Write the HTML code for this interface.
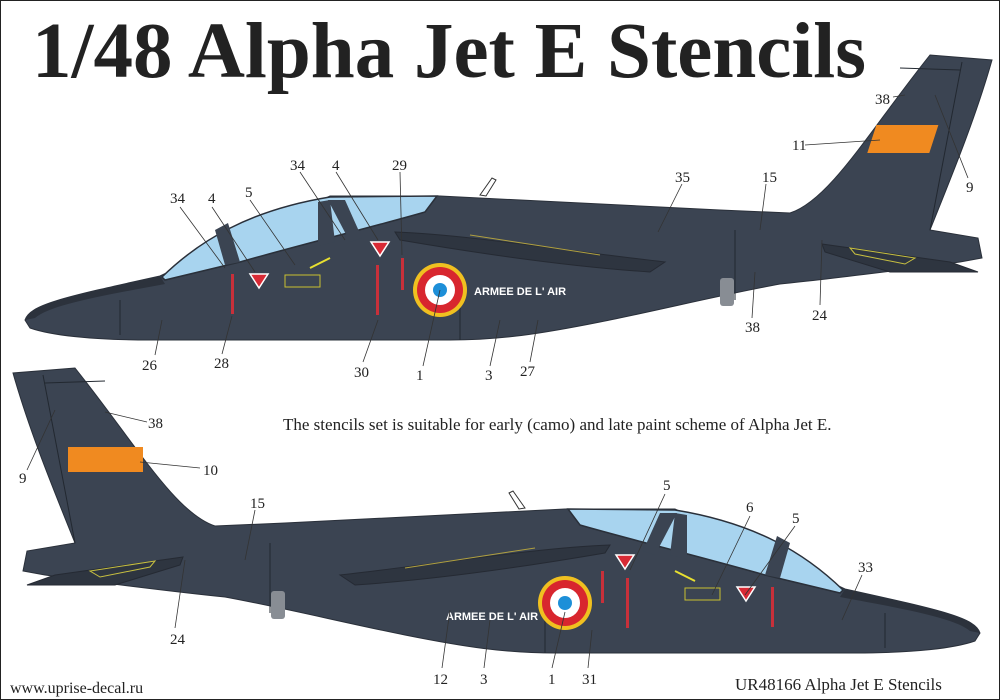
<!DOCTYPE html>
<html><head><meta charset="utf-8"><style>
html,body{margin:0;padding:0;background:#fff}
svg{display:block}
text{font-family:"Liberation Serif",serif;fill:#222}
</style></head><body>
<svg width="1000" height="700" viewBox="0 0 1000 700">
<rect x="0.5" y="0.5" width="999" height="699" fill="#fff" stroke="#222" stroke-width="1"/>
<defs>
<g id="jet">
 <path d="M25,320 C30,305 60,298 160,276 L330,196 L440,196 C520,200 620,205 720,210 L790,213 C830,200 870,130 930,55 L992,60 C975,120 950,180 930,230 L978,238 L982,258 L960,262 L900,270 C860,275 820,280 780,284 C720,295 660,310 600,322 C540,334 500,340 450,340 L150,340 C90,340 50,335 30,328 Z" fill="#3b4452" stroke="#2a303a" stroke-width="1"/>
 <path d="M25,320 C30,305 60,298 160,276 L165,284 C100,296 50,305 35,318 Z" fill="#2c323c"/>
 <path d="M162,277 C200,240 250,210 330,197 L437,196 L425,212 C380,225 300,245 240,262 L165,280 Z" fill="#a8d4ef" stroke="#2a303a" stroke-width="1.5"/>
 <path d="M225,265 L240,262 L228,223 L215,230 Z M318,246 L335,242 L330,200 L318,202 Z" fill="#3b4452"/>
 <path d="M328,200 L345,200 L362,238 L350,242 Z" fill="#3b4452"/>
 <path d="M395,232 C470,235 560,250 665,262 L650,272 C560,266 470,252 400,240 Z" fill="#2e3540" stroke="#252a33"/>
 <path d="M470,235 L600,255" stroke="#b0a040" stroke-width="1"/>
 <path d="M822,244 L950,262 L978,272 L890,272 L825,252 Z" fill="#2e3540" stroke="#252a33"/>
 <path d="M850,248 L915,258 L905,264 L855,254 Z" fill="none" stroke="#c8c040" stroke-width="1"/>
 <path d="M900,68 L960,70 M930,230 L962,62 M120,300 L120,335 M460,280 L460,340 M735,230 L735,300" stroke="#222830" stroke-width="1" fill="none"/>
 <rect x="720" y="278" width="14" height="28" rx="3" fill="#888d94"/>
 <path d="M480,195 L492,178 L496,180 L486,196 Z" fill="none" stroke="#333" />
 <rect x="231" y="274" width="3" height="40" fill="#c8303a"/>
 <rect x="376" y="265" width="3" height="50" fill="#c8303a"/>
 <rect x="401" y="258" width="3" height="32" fill="#c8303a"/>
 <path d="M250,274 L268,274 L259,288 Z" fill="#d82a35" stroke="#fff" stroke-width="1.5"/>
 <path d="M371,242 L389,242 L380,256 Z" fill="#d82a35" stroke="#fff" stroke-width="1.5"/>
 <rect x="285" y="275" width="35" height="12" fill="none" stroke="#c8c030"/>
 <path d="M310,268 L330,258" stroke="#e8e030" stroke-width="2"/>
 <circle cx="440" cy="290" r="27" fill="#f0c020"/>
 <circle cx="440" cy="290" r="23" fill="#d8262e"/>
 <circle cx="440" cy="290" r="15" fill="#fff"/>
 <circle cx="440" cy="290" r="7" fill="#1d8fd8"/>
</g>
</defs>
<text x="32" y="77" font-size="79" font-weight="bold" fill="#1e1e1e">1/48 Alpha Jet E Stencils</text>
<use href="#jet"/>
<rect x="873" y="125" width="62" height="28" fill="#f08a20" transform="skewX(-18) translate(44,0)"/>
<text x="474" y="295" font-size="11" font-weight="bold" style="font-family:'Liberation Sans',sans-serif;fill:#fff">ARMEE DE L' AIR</text>
<g transform="translate(1005,313) scale(-1,1)"><use href="#jet"/></g>
<rect x="68" y="447" width="75" height="25" fill="#f08a20"/>
<text x="446" y="620" style="font-family:'Liberation Sans',sans-serif;fill:#fff" font-size="11" font-weight="bold">ARMEE DE L' AIR</text>
<text x="283" y="430" font-size="17">The stencils set is suitable for early (camo) and late paint scheme of Alpha Jet E.</text>
<text x="10" y="693" font-size="16">www.uprise-decal.ru</text>
<text x="735" y="690" font-size="17">UR48166 Alpha Jet E Stencils</text>
<g font-size="15" stroke="#333" stroke-width="0.8" fill="none">
<text x="170" y="203" stroke="none">34</text><text x="208" y="203" stroke="none">4</text><text x="245" y="197" stroke="none">5</text>
<text x="290" y="170" stroke="none">34</text><text x="332" y="170" stroke="none">4</text><text x="392" y="170" stroke="none">29</text>
<text x="675" y="182" stroke="none">35</text><text x="762" y="182" stroke="none">15</text><text x="875" y="104" stroke="none">38</text>
<text x="792" y="150" stroke="none">11</text><text x="966" y="192" stroke="none">9</text>
<text x="142" y="370" stroke="none">26</text><text x="214" y="368" stroke="none">28</text><text x="354" y="377" stroke="none">30</text>
<text x="416" y="380" stroke="none">1</text><text x="485" y="380" stroke="none">3</text><text x="520" y="376" stroke="none">27</text>
<text x="745" y="332" stroke="none">38</text><text x="812" y="320" stroke="none">24</text>
<text x="148" y="428" stroke="none">38</text><text x="203" y="475" stroke="none">10</text><text x="19" y="483" stroke="none">9</text>
<text x="250" y="508" stroke="none">15</text><text x="170" y="644" stroke="none">24</text>
<text x="663" y="490" stroke="none">5</text><text x="746" y="512" stroke="none">6</text><text x="792" y="523" stroke="none">5</text>
<text x="858" y="572" stroke="none">33</text><text x="433" y="684" stroke="none">12</text><text x="480" y="684" stroke="none">3</text>
<text x="548" y="684" stroke="none">1</text><text x="582" y="684" stroke="none">31</text>
<path d="M180,207 L225,268 M212,207 L255,272 M250,200 L295,265 M300,172 L345,240 M336,172 L378,240 M400,172 L402,255 M682,184 L658,232 M766,184 L760,230 M893,97 L905,95 M805,145 L880,140 M968,178 L935,95 M155,355 L162,320 M222,354 L232,316 M363,362 L378,320 M423,366 L440,290 M490,366 L500,320 M530,362 L538,320 M752,318 L755,272 M820,305 L822,240 M147,422 L105,412 M200,468 L140,462 M27,470 L55,410 M255,510 L245,560 M175,628 L185,560 M665,494 L630,570 M750,516 L712,595 M795,526 L745,595 M862,575 L842,620 M442,668 L450,610 M484,668 L490,620 M552,668 L565,612 M588,668 L592,630"/>
</g>
</svg>
</body></html>
